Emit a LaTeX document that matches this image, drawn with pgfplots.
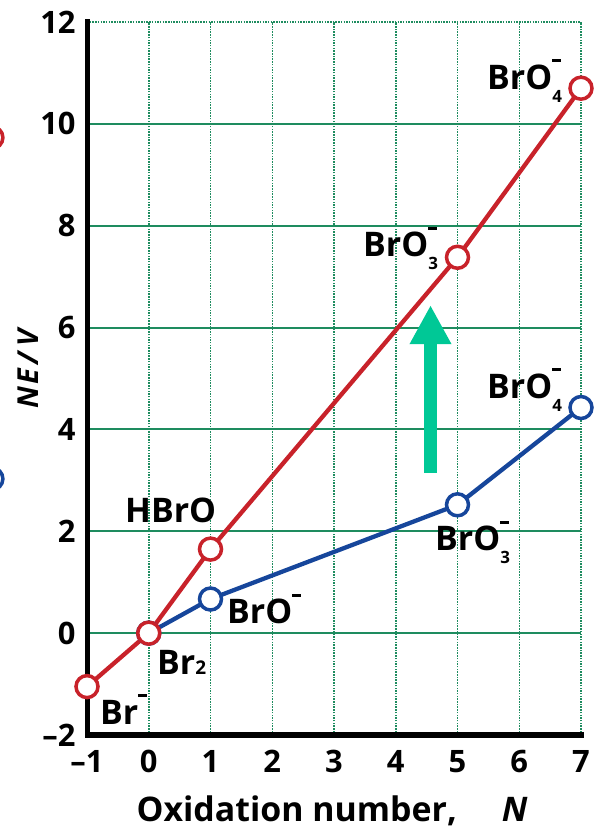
\documentclass[border=0pt]{standalone}
\usepackage{fontspec}
\setmainfont{Open Sans}
\usepackage{pgfplots}
\pgfplotsset{compat=1.18}
\usetikzlibrary{arrows.meta}
\definecolor{redl}{RGB}{200,34,42}
\definecolor{bluel}{RGB}{22,70,155}
\definecolor{gridg}{RGB}{30,140,95}
\definecolor{arrowg}{RGB}{0,200,150}
\newcommand\mn{\rule[27bp]{9bp}{3bp}}
\newcommand\sub[1]{\raisebox{-13bp}{\fontsize{17}{17}\selectfont #1}}
\newcommand\ion[1]{BrO\rlap{\mn}\sub{#1}}
\begin{document}
\fontsize{34}{40}\selectfont\bfseries
\begin{tikzpicture}
\useasboundingbox (0,0) rectangle (594bp,831bp);
\clip (0,0) rectangle (594bp,831bp);
\begin{axis}[
  at={(87bp,96bp)}, anchor=south west,
  scale only axis, width=494bp, height=713bp,
  xmin=-1, xmax=7, ymin=-2, ymax=12,
  clip=false,
  axis x line*=bottom, axis y line*=left,
  axis line style={-, line width=4bp, black},
  xtick={-1,0,1,2,3,4,5,6,7},
  xticklabels={--1,0,1,2,3,4,5,6,7},
  ytick={-2,0,2,4,6,8,10},
  yticklabels={--2,0,2,4,6,8,10},
  extra y ticks={12}, extra y tick labels={12},
  extra y tick style={grid=major, major grid style={gridg, line width=1.5bp, dash pattern=on 1.5bp off 1.2bp}},
  major tick length=0pt,
  tick label style={font=\fontsize{31}{31}\selectfont\bfseries},
  xticklabel style={anchor=base, yshift=-38bp},
  xmajorgrids, ymajorgrids,
  x grid style={gridg, line width=1.5bp, dash pattern=on 1.5bp off 1.2bp},
  y grid style={gridg, line width=2bp},
  xlabel={Oxidation number,\hspace{45bp}\itshape N},
  xlabel style={at={(axis description cs:0.496,-0.1220)}, anchor=base, font=\fontsize{34}{34}\selectfont\bfseries},
  ylabel={\itshape N\kern2bp E\kern5bp/\kern5bp V},
  ylabel style={at={(axis description cs:-0.1194,0.513)}, anchor=center, font=\fontsize{29}{29}\selectfont\bfseries},
]
\draw[black, line width=5bp, line cap=rect] (axis cs:-1,12) -- (axis cs:-1,-2) -- (axis cs:7,-2);
\addplot[bluel, line width=4.3bp, mark=*, mark size=11bp,
  mark options={fill=white, draw=bluel, line width=3.5bp}]
  coordinates {(0,0) (1,0.67) (5,2.52) (7,4.43)};
\addplot[redl, line width=4.3bp, mark=*, mark size=11bp,
  mark options={fill=white, draw=redl, line width=3.5bp}]
  coordinates {(-1,-1.05) (0,0) (1,1.65) (5,7.38) (7,10.7)};
% partial markers of a neighbouring panel, cut by the left edge
\addplot[only marks, mark=*, mark size=11bp, mark options={fill=white, draw=redl, line width=3.5bp}]
  coordinates {(-2.54,9.73)};
\addplot[only marks, mark=*, mark size=11bp, mark options={fill=white, draw=bluel, line width=3.5bp}]
  coordinates {(-2.54,3.03)};
\draw[arrowg, line width=13bp, -{Triangle[width=39bp, length=39bp]}]
  (axis cs:4.563,3.15) -- (axis cs:4.563,6.44);
\node[anchor=base west, inner sep=0pt] at (axis cs:5.478,10.68) {\ion{4}};
\node[anchor=base west, inner sep=0pt] at (axis cs:3.470,7.39) {\ion{3}};
\node[anchor=base west, inner sep=0pt] at (axis cs:5.478,4.61) {\ion{4}};
\node[anchor=base west, inner sep=0pt] at (axis cs:4.636,1.62) {\ion{3}};
\node[anchor=base west, inner sep=0pt] at (axis cs:-0.385,2.17) {HBrO};
\node[anchor=base west, inner sep=0pt] at (axis cs:1.267,0.18) {BrO\mn};
\node[anchor=base west, inner sep=0pt] at (axis cs:0.134,-0.81) {Br{\fontsize{19}{19}\selectfont 2}};
\node[anchor=base west, inner sep=0pt] at (axis cs:-0.789,-1.79) {Br\mn};
\end{axis}
\end{tikzpicture}
\end{document}
